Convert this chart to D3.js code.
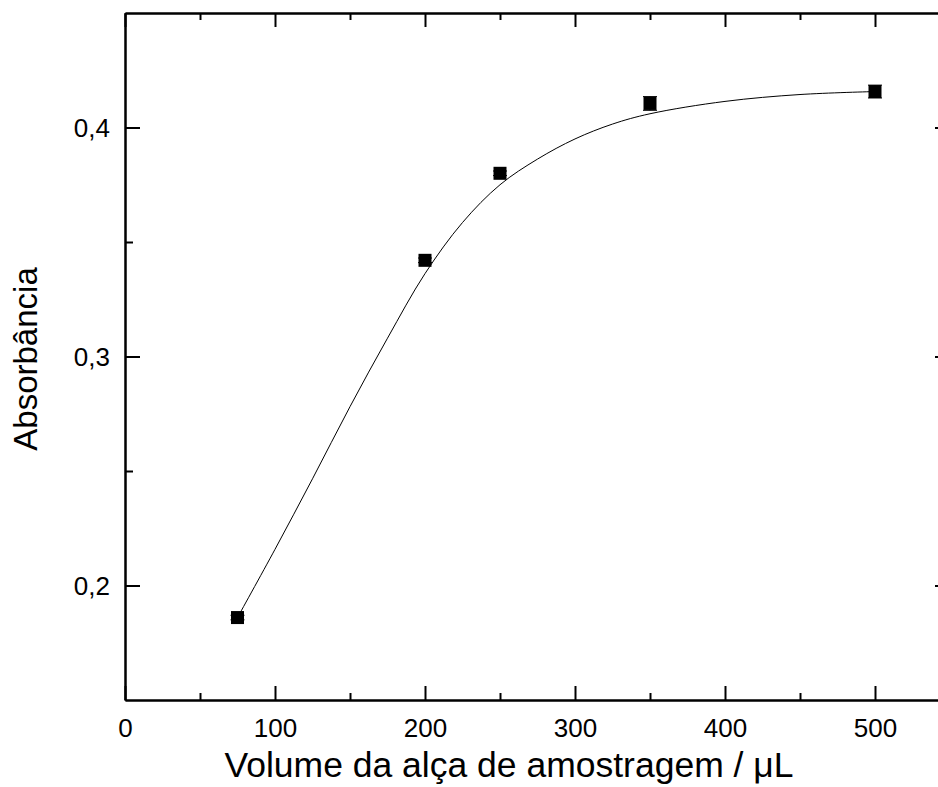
<!DOCTYPE html>
<html lang="pt">
<head>
<meta charset="UTF-8">
<title>Absorbância vs volume da alça</title>
<style>
    body { margin: 0; background: #fff; overflow: hidden; }
    svg { display: block; font-family: Arial, "Liberation Sans", sans-serif; }
    .axis path, .axis line { stroke: #000; stroke-width: 2px; }
    .fit { fill: none; stroke: #000; stroke-width: 1px; }
</style>
</head>
<body>
<div id="chart"></div>
<script src="https://cdn.jsdelivr.net/npm/d3@7"></script>
<script>
const width = 938, height = 787;

// measured points
const volumes = [75, 200, 250, 350, 500];
const absorbance = [0.186, 0.342, 0.380, 0.4105, 0.4157];
const errors = [0.001, 0.001, 0.001, 0.003, 0.0028];

// fitted curve
const fitX = [75, 100, 125, 150, 175, 200, 225, 250, 275, 300, 325, 350, 400, 450, 500];
const fitY = [0.186, 0.2158, 0.2466, 0.2781, 0.3080, 0.3362, 0.3585, 0.3750, 0.3862, 0.3950, 0.4015, 0.4060, 0.4114, 0.4144, 0.4157];

const xMajor = [0, 100, 200, 300, 400, 500];
const xMinor = [50, 150, 250, 350, 450];
const yMajor = [0.2, 0.3, 0.4];
const yMinor = [0.25, 0.35];

const padL = 125, padR = 950, padT = 13, padB = 700;

const x = d3.scaleLinear().domain([0, 550]).range([padL, padR]);
const y = d3.scaleLinear().domain([0.15, 0.45]).range([padB, padT]);

const svg = d3.select('#chart').append('svg')
    .attr('width', width)
    .attr('height', height);

const fmt = d => d3.format('.1f')(d).replace('.', ',');

// bottom
const xAxisG = svg.append('g').attr('class', 'axis')
    .attr('transform', `translate(0,${padB})`)
    .call(d3.axisBottom(x).tickValues(xMajor).tickSizeInner(-14).tickSizeOuter(0).tickFormat(d3.format('d')));
svg.append('g').attr('class', 'axis minor')
    .attr('transform', `translate(0,${padB})`)
    .call(d3.axisBottom(x).tickValues(xMinor).tickSizeInner(-7).tickSizeOuter(0).tickFormat(''));

// top
svg.append('g').attr('class', 'axis')
    .attr('transform', `translate(0,${padT})`)
    .call(d3.axisTop(x).tickValues(xMajor).tickSizeInner(-14).tickSizeOuter(0).tickFormat(''));
svg.append('g').attr('class', 'axis minor')
    .attr('transform', `translate(0,${padT})`)
    .call(d3.axisTop(x).tickValues(xMinor).tickSizeInner(-7).tickSizeOuter(0).tickFormat(''));

// left
const yAxisG = svg.append('g').attr('class', 'axis')
    .attr('transform', `translate(${padL},0)`)
    .call(d3.axisLeft(y).tickValues(yMajor).tickSizeInner(-15).tickSizeOuter(0).tickFormat(fmt));
svg.append('g').attr('class', 'axis minor')
    .attr('transform', `translate(${padL},0)`)
    .call(d3.axisLeft(y).tickValues(yMinor).tickSizeInner(-8).tickSizeOuter(0).tickFormat(''));

// right
svg.append('g').attr('class', 'axis')
    .attr('transform', `translate(${padR},0)`)
    .call(d3.axisRight(y).tickValues(yMajor).tickSizeInner(-15).tickSizeOuter(0).tickFormat(''));
svg.append('g').attr('class', 'axis minor')
    .attr('transform', `translate(${padR},0)`)
    .call(d3.axisRight(y).tickValues(yMinor).tickSizeInner(-8).tickSizeOuter(0).tickFormat(''));

svg.selectAll('.axis').attr('font-family', 'Arial, "Liberation Sans", sans-serif').attr('font-size', 26);
xAxisG.selectAll('text').attr('y', 37).attr('dy', null).attr('fill', '#000');
yAxisG.selectAll('text').attr('x', -15).attr('dy', '0.35em').attr('fill', '#000');

// fit curve
const fitData = fitX.map((v, i) => [v, fitY[i]]);
svg.append('path')
    .datum(fitData)
    .attr('class', 'fit')
    .attr('d', d3.line().x(d => x(d[0])).y(d => y(d[1])).curve(d3.curveCatmullRom.alpha(0.5)));

// points with error bars
const pts = volumes.map((v, i) => ({ v, a: absorbance[i], e: errors[i] }));
const g = svg.append('g');
g.selectAll('.err').data(pts).enter().append('path')
    .attr('class', 'err')
    .attr('stroke', '#000').attr('stroke-width', 1).attr('fill', 'none')
    .attr('d', d => {
        const cx = x(d.v), y0 = y(d.a - d.e), y1 = y(d.a + d.e);
        return `M${cx},${y0}V${y1}M${cx - 7},${y0}H${cx + 7}M${cx - 7},${y1}H${cx + 7}`;
    });
g.selectAll('rect').data(pts).enter().append('rect')
    .attr('x', d => x(d.v) - 6.5)
    .attr('y', d => y(d.a) - 6.5)
    .attr('width', 13).attr('height', 13)
    .attr('fill', '#000');

// axis titles
svg.append('text')
    .attr('x', 509).attr('y', 777)
    .attr('text-anchor', 'middle')
    .style('font-size', '35.5px')
    .text('Volume da alça de amostragem / \u03bcL');

svg.append('text')
    .attr('transform', 'translate(37,359) rotate(-90)')
    .attr('text-anchor', 'middle')
    .style('font-size', '33px')
    .text('Absorbância');
</script>
</body>
</html>
